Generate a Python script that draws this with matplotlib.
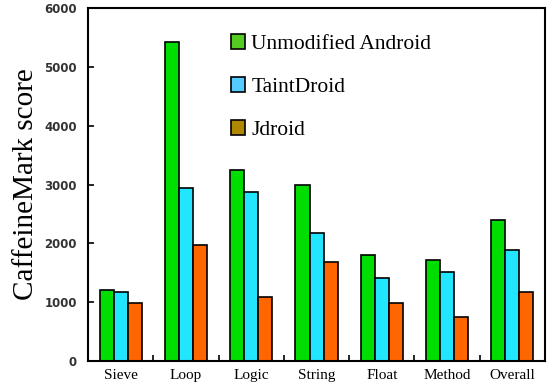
import numpy as np
import matplotlib.pyplot as plt
from matplotlib.patches import Patch

categories = ["Sieve", "Loop", "Logic", "String", "Float", "Method", "Overall"]
unmodified = [1200, 5420, 3250, 3000, 1800, 1720, 2400]
taintdroid = [1170, 2940, 2880, 2180, 1410, 1510, 1890]
jdroid = [985, 1970, 1090, 1690, 985, 750, 1170]
yticks = [0, 1000, 2000, 3000, 4000, 5000, 6000]

fig = plt.figure(figsize=(5.5, 3.9), dpi=100)
ax = fig.add_axes([0.16, 0.0744, 0.831, 0.905])

x = np.arange(len(categories))
w = 0.215
ax.bar(x - w, unmodified, w, color="#00dd00", edgecolor="black", linewidth=1.2)
ax.bar(x, taintdroid, w, color="#22e6ff", edgecolor="black", linewidth=1.2)
ax.bar(x + w, jdroid, w, color="#ff6600", edgecolor="black", linewidth=1.2)

ax.set_xlim(-0.5, len(categories) - 0.5)
ax.set_ylim(0, 6000)
ax.set_yticks(yticks)
ax.set_yticklabels([str(v) for v in yticks], fontsize=8.5, fontweight="bold",
                   color="#333333", family="DejaVu Sans")
ax.set_xticks(x)
ax.set_xticklabels(categories, fontsize=11, family="Liberation Serif")
ax.tick_params(axis="x", length=0, pad=6)
ax.tick_params(axis="y", direction="in", length=4, width=1.2, pad=8)
ax.set_xticks(np.arange(len(categories) + 1) - 0.5, minor=True)
ax.tick_params(axis="x", which="minor", direction="in", length=4, width=1.2)
ax.set_ylabel("CaffeineMark score", fontsize=21, family="Liberation Serif", labelpad=4)

for s in ax.spines.values():
    s.set_linewidth(1.5)

handles = [Patch(facecolor="#55cc22", edgecolor="black", linewidth=1.2),
           Patch(facecolor="#55ccff", edgecolor="black", linewidth=1.2),
           Patch(facecolor="#b08800", edgecolor="black", linewidth=1.2)]
ax.legend(handles, ["Unmodified Android", "TaintDroid", "Jdroid"],
          loc="upper left", bbox_to_anchor=(0.27, 0.98), frameon=False,
          prop={"family": "Liberation Serif", "size": 15.5},
          handlelength=0.65, handleheight=0.65, handletextpad=0.3, labelspacing=1.08)

fig.savefig("out.png", dpi=100)
